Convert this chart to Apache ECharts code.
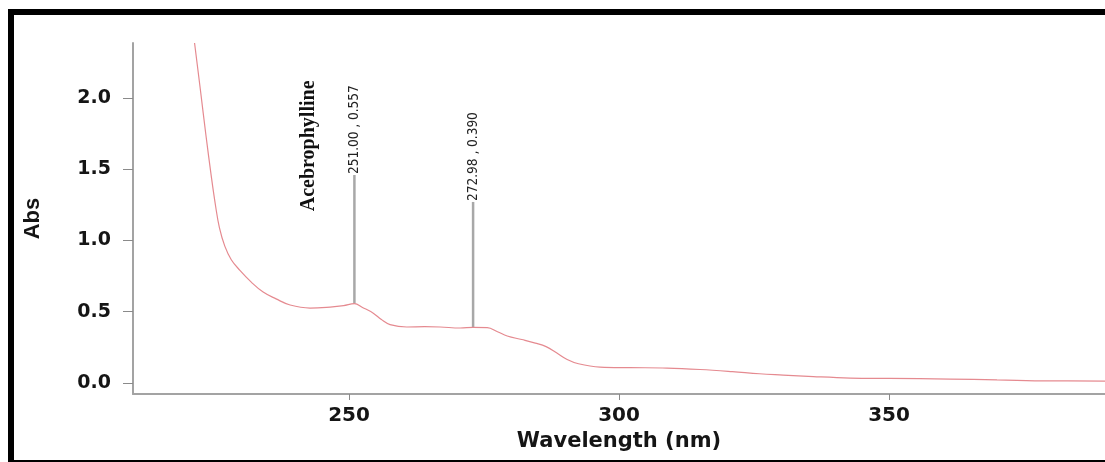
<!DOCTYPE html>
<html>
<head>
<meta charset="utf-8">
<script src="https://cdn.jsdelivr.net/npm/echarts@6/dist/echarts.min.js"></script>
<style>
  html, body { margin: 0; padding: 0; background: #fff; }
  #chart { width: 1105px; height: 462px; }
</style>
</head>
<body>
<div id="chart"></div>
<script>
// ---- data ----
const wavelengths = [221.4, 222.5, 223.5, 224.5, 225.3, 226.0, 227.0, 228.2, 229.8, 231.9, 234.1, 236.5, 239.1, 242.8, 246.5, 249.0, 251.0,
  252.5, 254.5, 256.0, 257.6, 260.7, 264.0, 266.9, 270.6, 273.0, 275.6, 277.5, 279.3, 282.0, 284.5, 286.5, 288.5, 290.4, 292.5,
  296.5, 302.0, 308.9, 315.0, 321.0, 326.0, 330.4, 336.0, 342.8, 350.0, 361.3, 370.0, 379.8, 390.0];
const absorbance = [2.385, 2.050, 1.740, 1.450, 1.240, 1.090, 0.960, 0.865, 0.790, 0.708, 0.638, 0.590, 0.547, 0.526, 0.533, 0.543, 0.557,
  0.530, 0.490, 0.445, 0.410, 0.393, 0.395, 0.393, 0.386, 0.390, 0.388, 0.360, 0.330, 0.305, 0.280, 0.255, 0.210, 0.165, 0.135,
  0.112, 0.108, 0.105, 0.095, 0.080, 0.065, 0.056, 0.045, 0.035, 0.032, 0.028, 0.022, 0.015, 0.014];

const peakWavelengths = [251.00, 272.98];
const peakAbs = [0.557, 0.390];
const peakLabelTop = [1.459, 1.270];
const peakLabels = ['251.00 , 0.557', '272.98 , 0.390'];

const compoundName = 'Acebrophylline';
const compoundAnchor = [242.6, 1.205];

const xTicks = [250, 300, 350];
const yTicks = [0, 0.5, 1.0, 1.5, 2.0];
const xTitle = 'Wavelength (nm)';
const yTitle = 'Abs';

// ---- chart ----
const chart = echarts.init(document.getElementById('chart'), null, { renderer: 'canvas' });
const curve = wavelengths.map((w, i) => [w, absorbance[i]]);
const peaks = peakWavelengths.map((w, i) => [w, peakAbs[i], peakLabelTop[i]]);

const narrow = "'DejaVu Sans Condensed', 'Liberation Sans Narrow', sans-serif";
const wide = "'DejaVu Sans', 'Liberation Sans', sans-serif";

const option = {
  backgroundColor: '#ffffff',
  animation: false,
  grid: { left: 133, right: 0, top: 43, bottom: 68, outerBoundsMode: 'none', containLabel: false },
  xAxis: {
    type: 'value', min: 210, max: 390,
    axisLine: { show: true, onZero: false, lineStyle: { color: '#a3a3a3', width: 2 } },
    axisTick: { show: true, customValues: xTicks, length: 6, lineStyle: { color: '#8a8a8a', width: 1 } },
    axisLabel: { customValues: xTicks, fontFamily: wide, fontWeight: 'bold', fontSize: 20, color: '#151515', margin: 12 },
    splitLine: { show: false },
    name: xTitle, nameLocation: 'middle', nameGap: 32,
    nameTextStyle: { fontFamily: wide, fontWeight: 'bold', fontSize: 21, color: '#151515' }
  },
  yAxis: {
    type: 'value', min: -0.077, max: 2.385,
    axisLine: { show: true, onZero: false, lineStyle: { color: '#a3a3a3', width: 2 } },
    axisTick: { show: true, customValues: yTicks, length: 10, lineStyle: { color: '#8a8a8a', width: 1 } },
    axisLabel: { customValues: yTicks, formatter: v => v.toFixed(1), fontFamily: wide, fontWeight: 'bold', fontSize: 19, color: '#151515', margin: 22 },
    splitLine: { show: false },
    name: yTitle, nameLocation: 'middle', nameGap: 89,
    nameTextStyle: { fontFamily: "'Liberation Sans', Arial, sans-serif", fontWeight: 'bold', fontSize: 22, color: '#151515' }
  },
  series: [
    {
      type: 'line', data: curve, showSymbol: false, smooth: 0.4, clip: true,
      lineStyle: { color: '#e58a90', width: 1.2 }, z: 3
    },
    {
      type: 'custom', data: peaks, z: 2,
      renderItem: function (params, api) {
        const x = api.value(0), y0 = api.value(1), y1 = api.value(2);
        const p0 = api.coord([x, y0]);
        const p1 = api.coord([x, y1]);
        return {
          type: 'group',
          children: [
            { type: 'line', shape: { x1: p0[0], y1: p0[1], x2: p1[0], y2: p1[1] },
              style: { stroke: '#a8a8a8', lineWidth: 2.5 } },
            { type: 'text', x: p1[0], y: p1[1] - 1, rotation: Math.PI / 2,
              style: { text: peakLabels[params.dataIndex], fontFamily: narrow, fontSize: 13.5,
                       fill: '#222', align: 'left', verticalAlign: 'middle' } }
          ]
        };
      }
    },
    {
      type: 'custom', data: [compoundAnchor], z: 2,
      renderItem: function (params, api) {
        const p = api.coord([api.value(0), api.value(1)]);
        return { type: 'text', x: p[0], y: p[1], rotation: Math.PI / 2,
          style: { text: compoundName, fontFamily: "'Liberation Serif', 'DejaVu Serif', serif", fontWeight: 'bold',
                   fontSize: 20, fill: '#111', align: 'left', verticalAlign: 'middle' } };
      }
    }
  ],
  graphic: [
    { type: 'rect', shape: { x: 8, y: 9, width: 1097, height: 6 }, style: { fill: '#000' }, z: 100 },
    { type: 'rect', shape: { x: 8, y: 9, width: 6, height: 453 }, style: { fill: '#000' }, z: 100 },
    { type: 'rect', shape: { x: 8, y: 460, width: 1097, height: 2 }, style: { fill: '#000' }, z: 100 }
  ]
};
chart.setOption(option);
</script>
</body>
</html>
